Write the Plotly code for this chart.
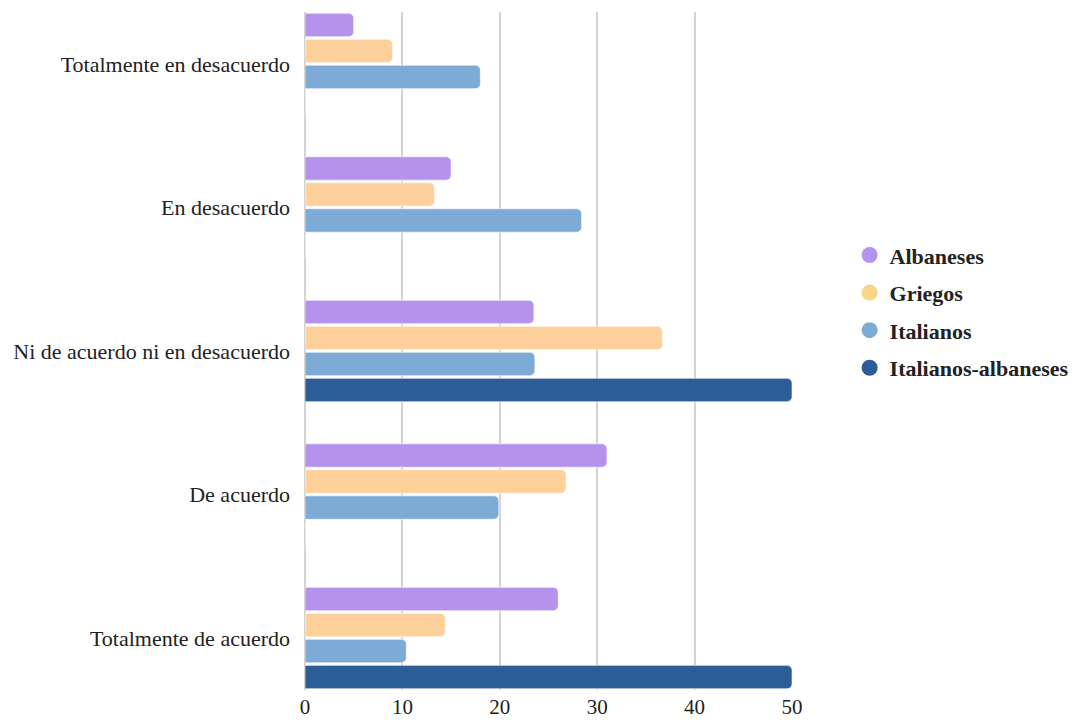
import plotly.graph_objects as go

categories = ["Totalmente en desacuerdo", "En desacuerdo", "Ni de acuerdo ni en desacuerdo",
              "De acuerdo", "Totalmente de acuerdo"]
series_names = ["Albaneses", "Griegos", "Italianos", "Italianos-albaneses"]
albaneses = [5, 15, 23.5, 31, 26]
griegos = [9, 13.3, 36.7, 26.8, 14.4]
italianos = [18, 28.4, 23.6, 19.9, 10.4]
italianos_albaneses = [0, 0, 50, 0, 50]
x_ticks = [0, 10, 20, 30, 40, 50]

values = [albaneses, griegos, italianos, italianos_albaneses]
bar_colors = ["#b592ec", "#fdd09c", "#7eaad6", "#2d5d96"]
legend_colors = ["#b592ec", "#f9d682", "#7eaad6", "#2d5d96"]

fig = go.Figure()
for name, vals, col in zip(series_names, values, bar_colors):
    fig.add_trace(go.Bar(
        y=categories, x=vals, name=name, orientation="h",
        marker=dict(color=col, line=dict(color="rgba(255,255,255,0.6)", width=1)),
        showlegend=False,
    ))
for name, col in zip(series_names, legend_colors):
    fig.add_trace(go.Scatter(
        x=[None], y=[None], mode="markers", name=name, legendgroup=name,
        marker=dict(symbol="circle", size=20, color=col),
        showlegend=True,
    ))

W, H = 1080, 722
left, right, top, bottom = 305, 793, 12, 690
fig.update_layout(
    width=W, height=H,
    margin=dict(l=left, r=W - right, t=top, b=H - bottom, pad=0, autoexpand=False),
    barmode="group", bargap=0.275, bargroupgap=0.1, barcornerradius=5,
    plot_bgcolor="white", paper_bgcolor="white",
    font=dict(family="Liberation Serif, Times New Roman, serif", size=22, color="#333333"),
    legend=dict(x=1.116, xanchor="left", y=0.558, yanchor="middle",
                font=dict(size=22, weight="bold", color="#222222"),
                tracegroupgap=6, itemsizing="trace"),
    xaxis=dict(range=[0, 50.1], tickvals=x_ticks, showgrid=True, gridcolor="#d3d3d3",
               gridwidth=1.5, zeroline=True, zerolinecolor="#d3d3d3", zerolinewidth=1.5,
               showline=False, ticks="", ticklabelstandoff=2, automargin=False,
               tickfont=dict(size=21, color="#222222")),
    yaxis=dict(categoryorder="array", categoryarray=categories, automargin=False,
               range=[4.362, -0.362], showgrid=False, zeroline=False, ticks="",
               ticklabelstandoff=14, tickfont=dict(size=22, color="#222222")),
)
fig.write_html("out.html")
